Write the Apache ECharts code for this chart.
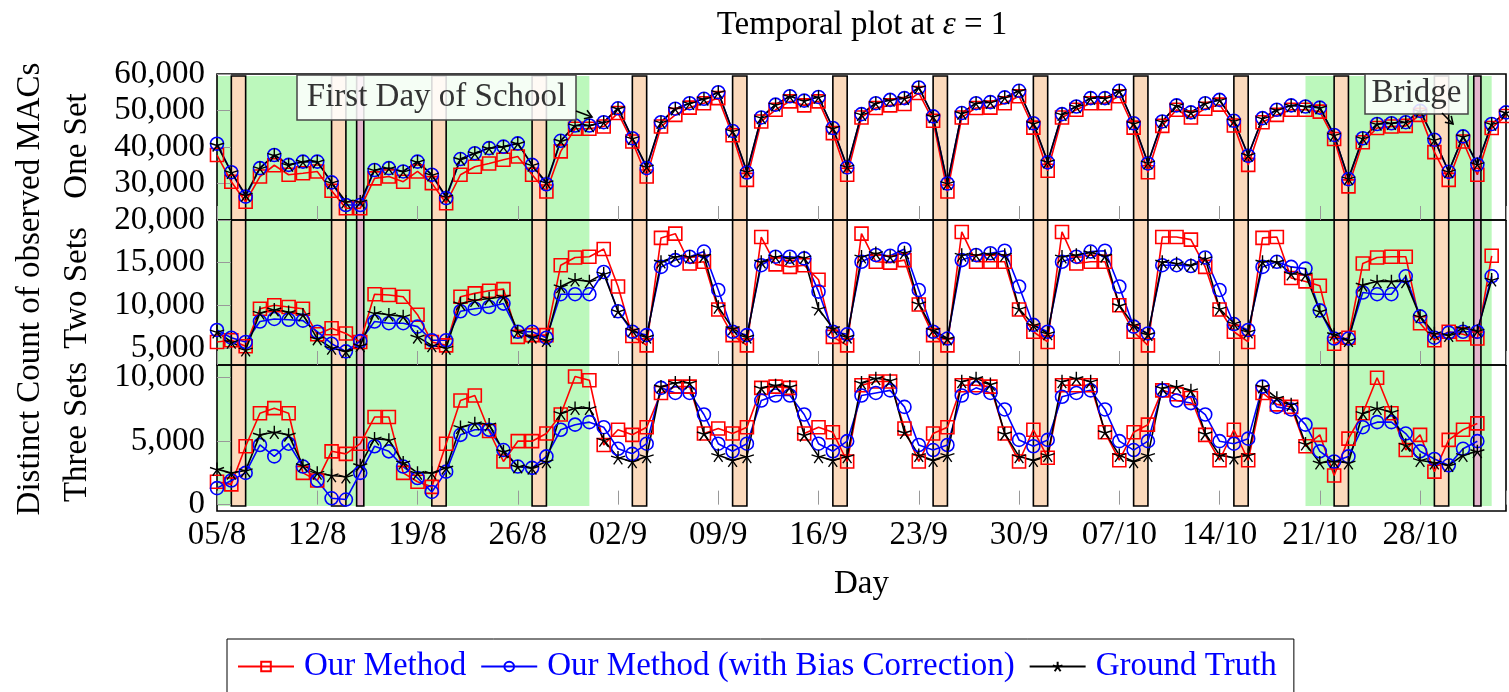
<!DOCTYPE html>
<html>

<head>
    <title>Temporal plot</title>
    <meta charset="utf-8">
    <script src="https://cdn.jsdelivr.net/npm/echarts@6.0.0/dist/echarts.min.js"></script>
    <style>
        html,
        body {
            margin: 0;
            padding: 0;
            background: #fff;
        }

        #main {
            width: 1509px;
            height: 692px;
        }
    </style>
</head>

<body>
    <div id="main"></div>
</body>
<script>
    // x = days since 05/8, one tick label per week
    var tickLabels = ['05/8', '12/8', '19/8', '26/8', '02/9', '09/9', '16/9', '23/9', '30/9', '07/10', '14/10', '21/10', '28/10'];

    // One Set
    var oneOurs = [37800, 30500, 25000, 31900, 35000, 32400, 32800, 33300, 28000, 23200,
        23200, 31400, 31900, 30500, 33300, 30100, 24600, 32400, 34600, 35500,
        36500, 37400, 32400, 27800, 38800, 45000, 45000, 45600, 49300, 41500,
        31900, 45600, 48800, 50800, 52000, 53400, 43200, 31000, 47000, 50200,
        52500, 51400, 52500, 43800, 32400, 48100, 50700, 51400, 51800, 54800,
        47200, 27800, 48100, 50700, 50800, 52000, 53900, 45300, 33500, 48100,
        50200, 52000, 52000, 53900, 45300, 33100, 45800, 50200, 48100, 50500,
        51600, 45900, 35100, 46800, 48800, 50200, 50200, 49700, 42200, 29200,
        41300, 45200, 45600, 45800, 48800, 38600, 31000, 41500, 32400, 45200,
        48500];
    var oneBias = [40900, 33100, 26400, 34200, 37800, 35100, 36000, 36000, 30300, 24100,
        24100, 33700, 34200, 33300, 36000, 32400, 26000, 36700, 38300, 39700,
        40100, 41000, 35100, 29800, 41700, 45900, 45900, 46800, 50600, 42400,
        34200, 46800, 50500, 52000, 53200, 55000, 44400, 33000, 48100, 51600,
        53900, 52700, 53700, 45200, 34400, 49000, 52000, 52900, 53400, 56300,
        48400, 30000, 49300, 52000, 52300, 53600, 55400, 46500, 35800, 49000,
        51100, 53400, 53400, 55400, 46500, 35500, 47000, 51400, 49500, 52000,
        52900, 47200, 37600, 47900, 50200, 51400, 51100, 50800, 43300, 31200,
        42400, 46300, 46500, 46800, 49900, 42000, 33200, 42900, 35200, 46300,
        49500];
    var oneTruth = [40600, 33100, 26900, 34200, 37800, 35100, 36000, 36000, 30300, 25000,
        25000, 33700, 34200, 33300, 36000, 32400, 26400, 36700, 38300, 39700,
        40100, 41000, 35100, 30300, 41700, 45900, 45900, 46800, 50600, 42400,
        34600, 46800, 50500, 52000, 53200, 55000, 44400, 33300, 48100, 51600,
        53900, 52700, 53700, 45200, 34600, 49000, 52000, 52900, 53400, 56300,
        48400, 30100, 49300, 52000, 52300, 53600, 55400, 46500, 36000, 49000,
        51100, 53400, 53400, 55400, 46500, 35700, 47000, 51400, 49500, 52000,
        52900, 47200, 37800, 47900, 50200, 51400, 51100, 50800, 43300, 31400,
        42400, 46300, 46500, 46800, 49900, 42000, 33300, 42900, 35300, 46300,
        49500];

    // Two Sets
    var twoOurs = [5700, 5900, 5200, 9600, 10000, 9800, 9600, 6600, 7300, 6700,
        5700, 11300, 11200, 11000, 8900, 5700, 5300, 11000, 11400, 11700,
        11900, 6300, 6500, 6500, 14700, 15600, 15700, 16600, 12200, 6400,
        5300, 17900, 18400, 14900, 15100, 9500, 6500, 5300, 18000, 14800,
        14500, 14700, 13000, 6300, 5300, 18400, 15100, 15000, 15300, 10100,
        6500, 5300, 18600, 15100, 15100, 15100, 9500, 6900, 5700, 18600,
        14900, 15100, 15100, 10000, 6900, 5300, 18000, 18000, 17700, 14500,
        9500, 6900, 5700, 17900, 18000, 13200, 12800, 12300, 5500, 6200,
        14900, 15600, 15700, 15700, 7900, 5900, 6900, 6600, 6100, 15800];
    var twoBias = [7100, 6200, 5700, 8100, 8400, 8300, 8200, 6900, 5500, 4600,
        5800, 8100, 7900, 7900, 7500, 5900, 5900, 9300, 9600, 9800,
        10200, 6900, 6900, 6200, 11300, 11300, 11300, 13900, 9300, 6900,
        6500, 14500, 15300, 15700, 16300, 11800, 6900, 6500, 14700, 15700,
        15700, 15500, 11600, 6900, 6600, 15100, 15900, 15800, 16600, 11800,
        6900, 6100, 15300, 15900, 16100, 16400, 12200, 7700, 6900, 15100,
        15700, 16300, 16400, 12200, 7500, 6700, 14700, 14700, 14600, 15600,
        11800, 7800, 7100, 14500, 15100, 14500, 14300, 9400, 6100, 6100,
        11500, 11300, 11300, 13400, 8700, 6200, 6800, 6900, 6900, 13400];
    var twoTruth = [6900, 5700, 4800, 9100, 9500, 9200, 8900, 6100, 5000, 4600,
        5300, 9100, 8900, 8700, 6300, 5300, 5000, 10200, 10600, 10800,
        11000, 6900, 6300, 5900, 12200, 13000, 12800, 13700, 9300, 7100,
        6300, 15100, 15700, 15700, 15800, 9800, 7300, 6300, 15100, 15700,
        15500, 15600, 9600, 7300, 6300, 15700, 16100, 15700, 16200, 10200,
        7100, 6100, 15900, 15900, 16000, 15900, 9600, 7700, 6700, 15700,
        15900, 16200, 15800, 10000, 7700, 6600, 15100, 14900, 14700, 15500,
        9600, 7900, 6900, 15100, 15100, 13700, 13600, 9300, 6600, 5900,
        12400, 12800, 12800, 12800, 8700, 6700, 6500, 7300, 7000, 13000];

    // Three Sets
    var threeOurs = [1800, 1600, 4600, 7200, 7600, 7200, 2500, 1900, 4200, 4000,
        4800, 6900, 6900, 2500, 1800, 1400, 4800, 8200, 8600, 5800,
        3400, 5000, 5000, 5600, 7100, 10100, 9800, 4700, 5900, 5500,
        6100, 8800, 9300, 9300, 5600, 6000, 5600, 6100, 9200, 9300,
        9200, 5600, 6100, 5700, 3400, 9400, 9700, 9700, 6000, 3400,
        5600, 6100, 9400, 9400, 9300, 5600, 3400, 5900, 3700, 9400,
        9400, 9400, 5700, 3500, 5700, 6300, 9000, 8700, 8400, 5500,
        3500, 5900, 3500, 8800, 7900, 7700, 4600, 5500, 2300, 5200,
        7200, 10000, 7200, 4300, 5500, 2600, 5100, 5900, 6400];
    var threeBias = [1300, 1900, 2500, 4700, 3800, 4800, 3000, 1900, 500, 400,
        2500, 4600, 4200, 3000, 2100, 1000, 2600, 5500, 5900, 5900,
        4300, 3000, 2900, 3800, 5900, 6300, 6500, 6100, 4400, 4000,
        4800, 9200, 8800, 8800, 7100, 4800, 4200, 4800, 8200, 8600,
        8600, 7100, 4800, 4200, 5000, 8600, 8800, 9000, 7700, 4700,
        4300, 4700, 8600, 9200, 8800, 7500, 5100, 4600, 5100, 8500,
        8800, 9000, 7500, 5000, 4300, 5000, 9000, 8200, 8000, 7100,
        5000, 4800, 5200, 9300, 7700, 7500, 6300, 4200, 3400, 3800,
        6100, 6500, 6500, 5600, 4200, 3600, 3100, 4400, 5000];
    var threeTruth = [2800, 2500, 2700, 5500, 5700, 5500, 3100, 2500, 2300, 2200,
        3100, 5200, 5100, 3300, 2500, 2500, 2900, 6100, 6400, 6300,
        4200, 3000, 2900, 3400, 7200, 7600, 7600, 5100, 3700, 3400,
        3800, 9300, 9600, 9600, 5600, 3900, 3500, 3800, 9200, 9400,
        9300, 5500, 3800, 3500, 3800, 9600, 9950, 9800, 5700, 3900,
        3500, 3900, 9700, 9950, 9500, 5600, 3800, 3500, 3900, 9700,
        9950, 9700, 5700, 3900, 3400, 3900, 9200, 9300, 9000, 5600,
        3900, 3700, 3900, 9300, 8400, 7900, 4800, 3300, 3400, 3300,
        7200, 7600, 7300, 4700, 3500, 3300, 3100, 3900, 4200];

    // background periods (day indices)
    var greenSpans = [[0, 26], [76, 89]];
    var weekendStarts = [1, 8, 15, 22, 29, 36, 43, 50, 57, 64, 71, 78, 85];
    var holidays = [10, 88];

    var twoTicks = [5000, 10000, 15000];
    var threeTicks = [0, 5000, 10000];

    var FONT = 'Liberation Serif';
    var names = ['Our Method', 'Our Method (with Bias Correction)', 'Ground Truth'];
    var star = 'path://M0,0L0,-10M0,0L-9.51,-3.09M0,0L-5.88,8.09M0,0L5.88,8.09M0,0L9.51,-3.09';

    var myChart = echarts.init(document.getElementById('main'));

    function toPairs(arr) {
        var out = [];
        for (var i = 0; i < arr.length; i++) {
            out.push([i, arr[i]]);
        }
        return out;
    }

    function fmt(v) {
        return Number(v).toLocaleString('en-US');
    }

    function lineSeries(name, arr, idx, color, symbol, size, bw) {
        return {
            name: name,
            type: 'line',
            xAxisIndex: idx,
            yAxisIndex: idx,
            data: toPairs(arr),
            symbol: symbol,
            symbolSize: size,
            symbolKeepAspect: true,
            lineStyle: { color: color, width: 1.6 },
            itemStyle: { color: 'rgba(0,0,0,0)', borderColor: color, borderWidth: bw },
            emphasis: { disabled: true },
            silent: true,
            z: 3
        };
    }

    // shaded periods
    var areas = [];
    greenSpans.forEach(function (s) {
        areas.push([{ xAxis: s[0], itemStyle: { color: '#bcf8bc', borderWidth: 0 } }, { xAxis: s[1] }]);
    });
    weekendStarts.forEach(function (d) {
        areas.push([{ xAxis: d, itemStyle: { color: '#fcdabc', borderColor: '#000', borderWidth: 1.6 } }, { xAxis: d + 1 }]);
    });
    holidays.forEach(function (d) {
        areas.push([{ xAxis: d - 0.25, itemStyle: { color: '#e4b5cd', borderColor: '#000', borderWidth: 1.6 } }, { xAxis: d + 0.25 }]);
    });

    var labelFont = { fontFamily: FONT, fontSize: 33, color: '#000' };
    var tickStyle = { show: true, inside: true, length: 14, lineStyle: { color: '#999', width: 1 } };

    function xAxisFor(i) {
        return {
            type: 'value', gridIndex: i, min: 0, max: 90, interval: 7, z: 2,
            axisLine: { show: false }, splitLine: { show: false },
            axisTick: i === 0 ? { show: false } : tickStyle,
            axisLabel: {
                show: i === 3, margin: 8, fontFamily: FONT, fontSize: 33, color: '#000',
                formatter: function (v) { return v % 7 === 0 ? tickLabels[v / 7] : ''; }
            },
            name: i === 3 ? 'Day' : '', nameLocation: 'middle', nameGap: 57,
            nameTextStyle: labelFont
        };
    }

    var yLabel = { margin: 12, fontFamily: FONT, fontSize: 33, color: '#000', formatter: fmt, showMinLabel: true, showMaxLabel: true };

    var gridBase = { left: 217, right: 3, show: true, borderColor: '#000', borderWidth: 1.6, backgroundColor: 'transparent', z: 2, outerBoundsMode: 'none' };

    var option = {
        animation: false,
        grid: [
            { left: 217, right: 3, top: 76, height: 430, show: false, outerBoundsMode: 'none' },
            Object.assign({ top: 74, height: 146 }, gridBase),
            Object.assign({ top: 220, height: 145 }, gridBase),
            Object.assign({ top: 365, height: 146 }, gridBase)
        ],
        xAxis: [xAxisFor(0), xAxisFor(1), xAxisFor(2), xAxisFor(3)],
        yAxis: [
            { type: 'value', gridIndex: 0, min: 0, max: 1, show: false },
            {
                type: 'value', gridIndex: 1, min: 20000, max: 60000, interval: 10000, z: 2,
                axisLine: { show: false }, splitLine: { show: false }, axisTick: tickStyle, axisLabel: yLabel
            },
            {
                type: 'value', gridIndex: 2, min: 3000, max: 20000, z: 2,
                axisLine: { show: false }, splitLine: { show: false },
                axisTick: Object.assign({ customValues: twoTicks }, tickStyle),
                axisLabel: Object.assign({ customValues: twoTicks }, yLabel)
            },
            {
                type: 'value', gridIndex: 3, min: -500, max: 11000, z: 2,
                axisLine: { show: false }, splitLine: { show: false },
                axisTick: Object.assign({ customValues: threeTicks }, tickStyle),
                axisLabel: Object.assign({ customValues: threeTicks }, yLabel)
            }
        ],
        legend: {
            data: names,
            left: 227,
            top: 639,
            padding: [11, 17, 40, 10],
            itemGap: 14,
            itemWidth: 56,
            itemHeight: 12,
            borderColor: '#000',
            borderWidth: 1,
            backgroundColor: '#fff',
            selectedMode: false,
            textStyle: { fontFamily: FONT, fontSize: 33, color: '#0000ff', padding: [0, 0, 0, 5] }
        },
        series: [
            {
                type: 'line', xAxisIndex: 0, yAxisIndex: 0, data: [[0, -1]], symbol: 'none',
                lineStyle: { width: 0 }, silent: true, z: 1,
                markArea: { silent: true, label: { show: false }, emphasis: { disabled: true }, data: areas }
            },
            lineSeries(names[0], oneOurs, 1, '#ff0000', 'rect', 13, 1.6),
            lineSeries(names[1], oneBias, 1, '#0000ff', 'circle', 13, 1.6),
            lineSeries(names[2], oneTruth, 1, '#000000', star, 14, 1.4),
            lineSeries(names[0], twoOurs, 2, '#ff0000', 'rect', 13, 1.6),
            lineSeries(names[1], twoBias, 2, '#0000ff', 'circle', 13, 1.6),
            lineSeries(names[2], twoTruth, 2, '#000000', star, 14, 1.4),
            lineSeries(names[0], threeOurs, 3, '#ff0000', 'rect', 13, 1.6),
            lineSeries(names[1], threeBias, 3, '#0000ff', 'circle', 13, 1.6),
            lineSeries(names[2], threeTruth, 3, '#000000', star, 14, 1.4)
        ]
    };
    myChart.setOption(option);

    // texts and annotations
    function arrow(x1, y1, x2, y2) {
        var dx = x2 - x1, dy = y2 - y1;
        var len = Math.sqrt(dx * dx + dy * dy);
        var ux = dx / len, uy = dy / len;
        var h = 7, w = 4.5;
        return [
            { type: 'line', shape: { x1: x1, y1: y1, x2: x2, y2: y2 }, style: { stroke: '#000', lineWidth: 1.6 }, z: 10 },
            {
                type: 'polyline', z: 10,
                shape: { points: [[x2 - ux * h - uy * w, y2 - uy * h + ux * w], [x2, y2], [x2 - ux * h + uy * w, y2 - uy * h - ux * w]] },
                style: { stroke: '#000', lineWidth: 1.6, fill: null }
            }
        ];
    }

    function textEl(str, x, y, rot, color) {
        return {
            type: 'text', x: x, y: y, rotation: rot || 0, z: 10,
            style: { text: str, fontFamily: FONT, fontSize: 33, fill: color || '#000', align: 'center', verticalAlign: 'middle' }
        };
    }

    var g = [
        {
            type: 'text', x: 862, y: 25, z: 10,
            style: {
                text: 'Temporal plot at {i|ε} = 1', fontFamily: FONT, fontSize: 33, fill: '#000',
                align: 'center', verticalAlign: 'middle',
                rich: { i: { fontFamily: FONT, fontSize: 33, fontStyle: 'italic' } }
            }
        },
        textEl('Distinct Count of observed MACs', 30, 289, Math.PI / 2),
        textEl('One Set', 77, 146, Math.PI / 2),
        textEl('Two Sets', 77, 288, Math.PI / 2),
        textEl('Three Sets', 77, 432, Math.PI / 2),
        {
            type: 'rect', z: 10, shape: { x: 297, y: 75, width: 279, height: 45 },
            style: { fill: 'rgba(255,255,255,0.85)', stroke: '#444', lineWidth: 1.5 }
        },
        textEl('First Day of School', 436.5, 97.5, 0, '#333'),
        {
            type: 'rect', z: 10, shape: { x: 1365, y: 74, width: 103, height: 40 },
            style: { fill: 'rgba(255,255,255,0.85)', stroke: '#444', lineWidth: 1.5 }
        },
        textEl('Bridge', 1416.5, 93, 0, '#333')
    ];
    g = g.concat(arrow(576, 111, 592, 117), arrow(1442, 113, 1453, 124));
    myChart.setOption({ graphic: g });
</script>

</html>
